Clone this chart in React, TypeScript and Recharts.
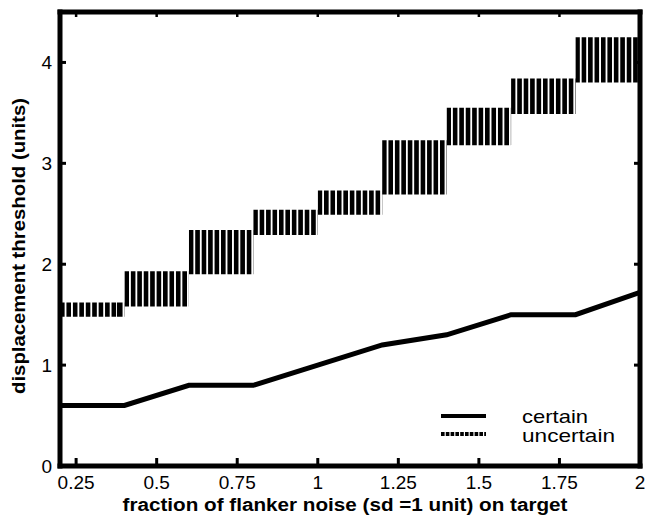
import React from 'react';
import {
  ComposedChart,
  Line,
  XAxis,
  YAxis,
  ReferenceArea,
  Legend,
  Label,
} from 'recharts';

// flanker noise fraction (bin edges / line points)
const noiseFraction = [0.2, 0.4, 0.6, 0.8, 1.0, 1.2, 1.4, 1.6, 1.8, 2.0];
// displacement threshold, certain condition
const certainThreshold = [0.6, 0.6, 0.8, 0.8, 1.0, 1.2, 1.3, 1.5, 1.5, 1.72];
// uncertain condition: range per bin
const uncertainLow = [1.48, 1.58, 1.9, 2.29, 2.49, 2.69, 3.18, 3.49, 3.8];
const uncertainHigh = [1.62, 1.93, 2.34, 2.54, 2.73, 3.23, 3.55, 3.84, 4.25];

const xTicks = [0.25, 0.5, 0.75, 1, 1.25, 1.5, 1.75, 2];
const yTicks = [0, 1, 2, 3, 4];
const seriesNames = ['certain', 'uncertain'];

const FONT = '"Liberation Sans", Arial, Helvetica, sans-serif';

const chartData = noiseFraction.map((x, i) => ({ x, certain: certainThreshold[i] }));

const frameLine = { stroke: '#000', strokeWidth: 5, strokeLinecap: 'square' as const };

const BottomTick = (props: any) => {
  const { x, y, payload } = props;
  return (
    <g>
      <line x1={x} x2={x} y1={y - 2} y2={y - 8} stroke="#000" strokeWidth={3} />
      <text x={x} y={y + 23} textAnchor="middle" fontSize={19} fontFamily={FONT} fill="#000">
        {payload.value}
      </text>
    </g>
  );
};

const LeftTick = (props: any) => {
  const { x, y, payload } = props;
  return (
    <g>
      <line x1={x + 2} x2={x + 6} y1={y} y2={y} stroke="#000" strokeWidth={3} />
      <text x={x - 8} y={y} dy="0.35em" textAnchor="end" fontSize={19} fontFamily={FONT} fill="#000">
        {payload.value}
      </text>
    </g>
  );
};

const TopTick = (props: any) => {
  const { x, y } = props;
  return <line x1={x} x2={x} y1={y + 2} y2={y + 5} stroke="#000" strokeWidth={2.5} />;
};

const RightTick = (props: any) => {
  const { x, y } = props;
  return <line x1={x - 2} x2={x - 6} y1={y} y2={y} stroke="#000" strokeWidth={3} />;
};

const XTitle = (props: any) => {
  const vb = props.viewBox;
  return (
    <text
      x={vb.x + vb.width / 2 - 5}
      y={vb.y + 45}
      textAnchor="middle"
      fontSize={18}
      fontWeight="bold"
      fontFamily={FONT}
      textLength={445}
      lengthAdjust="spacingAndGlyphs"
      fill="#000"
    >
      fraction of flanker noise (sd =1 unit) on target
    </text>
  );
};

const YTitle = () => (
  <text
    x={25}
    y={246}
    transform="rotate(-90, 25, 246)"
    textAnchor="middle"
    fontSize={19}
    fontWeight="bold"
    fontFamily={FONT}
    textLength={296}
    lengthAdjust="spacingAndGlyphs"
    fill="#000"
  >
    displacement threshold (units)
  </text>
);

const LegendBox = () => (
  <svg width={200} height={50}>
    {seriesNames.map((name, i) => (
      <g key={name}>
        <line
          x1={11}
          x2={56}
          y1={16 + i * 18}
          y2={16 + i * 18}
          stroke="#000"
          strokeWidth={4}
          strokeDasharray={i === 1 ? '3.6 1.2' : undefined}
        />
        <text
          x={92}
          y={23 + i * 19}
          fontSize={19}
          fontFamily={FONT}
          textLength={i === 1 ? 93 : 66}
          lengthAdjust="spacingAndGlyphs"
          fill="#000"
        >
          {name}
        </text>
      </g>
    ))}
  </svg>
);

export default function App() {
  return (
    <div style={{ position: 'absolute', left: 0, top: 0, background: '#fff' }}>
      <ComposedChart
        width={648}
        height={518}
        data={chartData}
        margin={{ top: 11, right: 7, bottom: 0, left: 0 }}
      >
        <defs>
          <pattern id="hatch" patternUnits="userSpaceOnUse" x={60} y={0} width={6.44} height={10}>
            <rect x={0} y={0} width={6.44} height={10} fill="#fff" />
            <rect x={0} y={0} width={4.6} height={10} fill="#000" />
          </pattern>
        </defs>
        <XAxis
          dataKey="x"
          type="number"
          domain={[0.2, 2]}
          ticks={xTicks}
          allowDataOverflow
          height={52}
          tickSize={0}
          tickMargin={0}
          tick={<BottomTick />}
          axisLine={frameLine}
          interval={0}
        >
          <Label content={<XTitle />} />
        </XAxis>
        <XAxis
          xAxisId="top"
          orientation="top"
          dataKey="x"
          type="number"
          domain={[0.2, 2]}
          ticks={xTicks}
          allowDataOverflow
          height={1}
          tickSize={0}
          tickMargin={0}
          tick={<TopTick />}
          axisLine={frameLine}
          interval={0}
        />
        <YAxis
          type="number"
          domain={[0, 4.5]}
          ticks={yTicks}
          allowDataOverflow
          width={60}
          tickSize={0}
          tickMargin={0}
          tick={<LeftTick />}
          axisLine={frameLine}
          interval={0}
        >
          <Label content={<YTitle />} />
        </YAxis>
        <YAxis
          yAxisId="right"
          orientation="right"
          type="number"
          domain={[0, 4.5]}
          ticks={yTicks}
          allowDataOverflow
          width={1}
          tickSize={0}
          tickMargin={0}
          tick={<RightTick />}
          axisLine={frameLine}
          interval={0}
        />
        {uncertainLow.map((lo, i) => (
          <ReferenceArea
            key={i}
            x1={noiseFraction[i]}
            x2={noiseFraction[i + 1]}
            y1={lo}
            y2={uncertainHigh[i]}
            fill="url(#hatch)"
            fillOpacity={1}
            stroke="none"
          />
        ))}
        <Line
          dataKey="certain"
          stroke="#000"
          strokeWidth={5}
          dot={false}
          activeDot={false}
          isAnimationActive={false}
          legendType="none"
        />
        <Legend
          layout="horizontal"
          verticalAlign="middle"
          align="center"
          content={<LegendBox />}
          wrapperStyle={{ position: 'absolute', left: 430, top: 400, width: 200, height: 50 }}
        />
      </ComposedChart>
    </div>
  );
}
